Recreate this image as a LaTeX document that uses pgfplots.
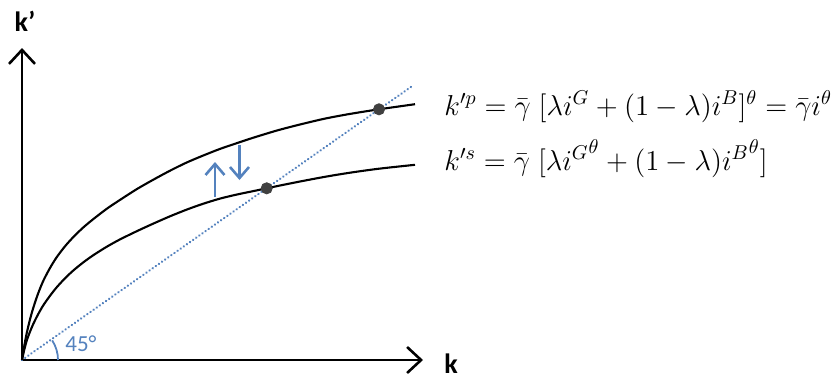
\documentclass[border=0pt]{standalone}
\usepackage[no-math]{fontspec}
\setmainfont{Carlito}
\usepackage{pgfplots}
\pgfplotsset{compat=1.18}
\usetikzlibrary{arrows.meta}
\definecolor{myblue}{RGB}{84,130,190}
\definecolor{dotgray}{RGB}{64,64,64}
\begin{document}
\begin{tikzpicture}
\begin{axis}[
  x=0.5pt, y=0.5pt,
  xmin=0, xmax=401, ymin=0, ymax=312,
  hide axis, clip=false,
]
% bounding box of the whole picture
\path (axis cs:-22,-17) rectangle (axis cs:812,360);
% axes
\draw[line width=1.3pt, line join=miter,
  {Straight Barb[length=7pt,width=13pt,line width=1.3pt]}-{Straight Barb[length=7pt,width=13pt,line width=1.3pt]}]
  (axis cs:0,312) -- (axis cs:0,0) -- (axis cs:401,0);
% 45 degree line
\addplot[myblue, line width=1.2pt, dash pattern=on 0.1pt off 1.8pt, line cap=round]
  coordinates {(0,0) (391,274.5)};
% upper curve k'p
\addplot[black, line width=1.05pt, smooth] coordinates {
(0,0) (2,12.7) (4.7,26.7) (8,40.6) (11.3,52.2) (16,66.2) (21.3,79.2) (28,92.0)
(34.7,102.8) (43,113.7) (51.3,122.9) (61,132.3) (71.3,140.9) (85,151.4)
(98,160.1) (115,171.0) (131.3,180.3) (148,189.3) (164.7,197.5) (181,204.4)
(198,211.1) (215,216.9) (231.3,222.3) (255,229.5) (278,235.5) (303,241.4)
(328,246.1) (357,250.7) (393,255.8)};
% lower curve k's
\addplot[black, line width=1.05pt, smooth] coordinates {
(0,0) (2,9.1) (4.7,19.2) (8,28.3) (11.3,36.1) (16,45.5) (21.3,54.7) (28,64.2)
(34.7,72.7) (43,81.7) (51.3,89.5) (61,97.4) (71.3,104.8) (85,113.4)
(98,120.6) (115,128.9) (131.3,136.4) (148,143.7) (164.7,150.4) (181,156.2)
(198,161.4) (215,165.5) (231.3,168.9) (244.7,171.7) (260,174.9) (278,178.5)
(303,183.2) (328,187.3) (357,191.3) (393,195.2)};
% steady states
\addplot[only marks, mark=*, mark size=2.8pt, color=dotgray, mark options={fill=dotgray}]
  coordinates {(357,250.7) (244.7,171.7)};
% arrows
\draw[myblue, line width=1.3pt, -{Straight Barb[length=5.5pt,width=9.5pt,line width=1.3pt]}]
  (axis cs:193,163) -- (axis cs:193,198);
\draw[myblue, line width=1.3pt, -{Straight Barb[length=5.5pt,width=9.5pt,line width=1.3pt]}]
  (axis cs:217.5,215) -- (axis cs:217.5,180);
% 45 degree arc
\draw[myblue, line width=0.9pt] (axis cs:36,0) arc[start angle=0, end angle=33, radius=18pt];
\node[anchor=west, text=myblue, font=\fontsize{11.5}{13}\selectfont, inner sep=0pt] at (axis cs:43,16) {45°};
% axis labels
\node[font=\fontsize{14}{16}\selectfont\bfseries, inner sep=0pt] at (axis cs:3,339) {k’};
\node[font=\fontsize{14}{16}\selectfont\bfseries, inner sep=0pt, anchor=base] at (axis cs:429,-13) {k};
% equations
\node[anchor=base west, inner sep=0pt, font=\fontsize{14}{16}\selectfont] at (axis cs:422,245)
  {$k'^{p} = \bar{\gamma}\;[\lambda i^{G} + (1-\lambda) i^{B}]^{\theta} = \bar{\gamma} i^{\theta}$};
\node[anchor=base west, inner sep=0pt, font=\fontsize{14}{16}\selectfont] at (axis cs:422,190)
  {$k'^{s} = \bar{\gamma}\;[\lambda {i^{G}}^{\theta} + (1-\lambda) {i^{B}}^{\theta}]$};
\end{axis}
\end{tikzpicture}
\end{document}
